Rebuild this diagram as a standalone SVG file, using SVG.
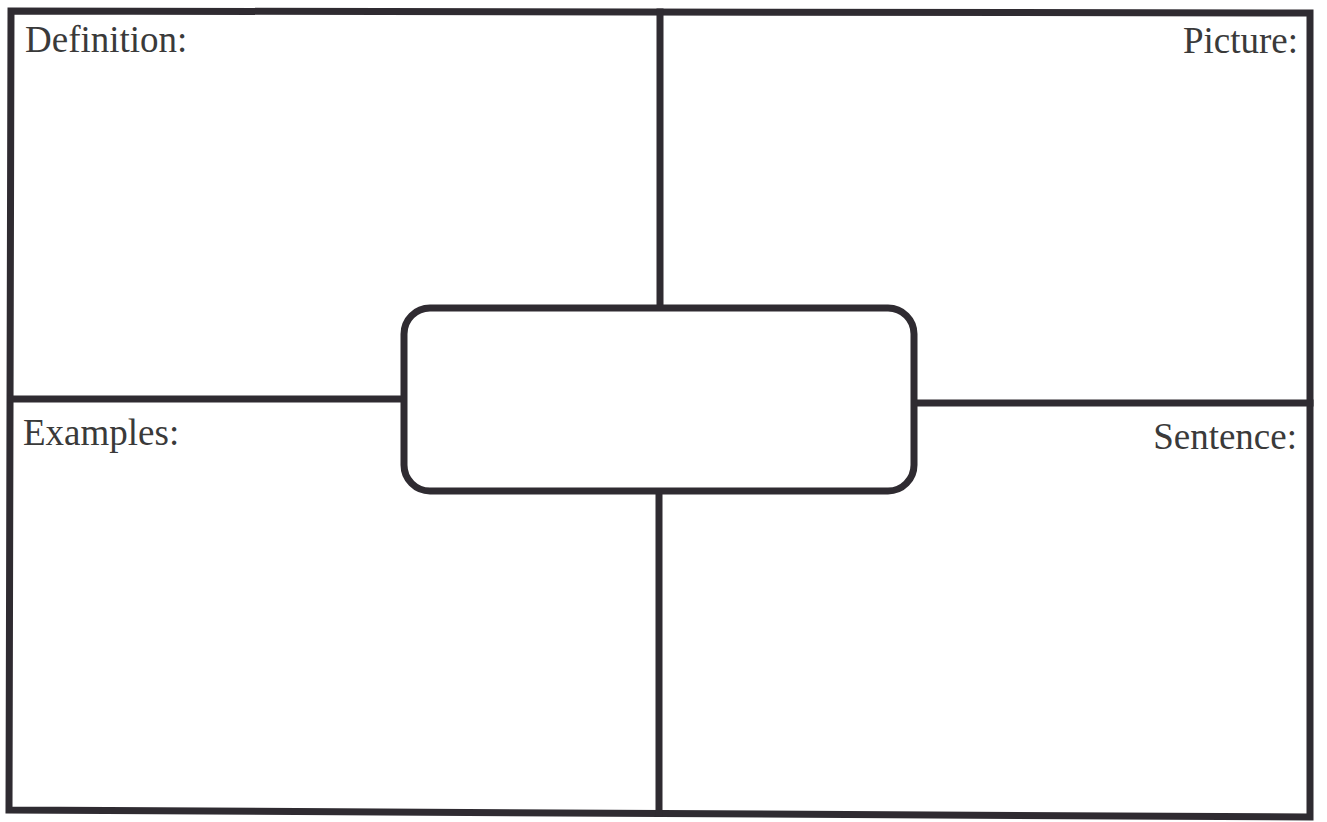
<svg xmlns="http://www.w3.org/2000/svg" width="1327" height="822" viewBox="0 0 1327 822">
<style>
.ln{stroke:#2f2b31;stroke-width:7;fill:none;stroke-linecap:square}
.lbl{font-family:"Liberation Serif","Times New Roman",serif;font-size:37px;fill:#3a3a3a}
</style>
<rect width="1327" height="822" fill="#ffffff"/>
<g id="frame">
<path class="ln" d="M11,11 L1310,13 L1310,817 L9,810 Z"/>
</g>
<g id="connectors">
<line class="ln" x1="660" y1="12" x2="660" y2="306"/>
<line class="ln" x1="659" y1="493" x2="659" y2="813"/>
<line class="ln" x1="11" y1="399" x2="402" y2="399"/>
<line class="ln" x1="916" y1="403" x2="1310" y2="403"/>
</g>
<g id="center">
<rect class="ln" x="404" y="308" width="510" height="183" rx="26" ry="26"/>
</g>
<g id="definition"><text class="lbl" x="25" y="52">Definition:</text></g>
<g id="picture"><text class="lbl" x="1298" y="53" text-anchor="end">Picture:</text></g>
<g id="examples"><text class="lbl" x="23" y="445">Examples:</text></g>
<g id="sentence"><text class="lbl" x="1297" y="449" text-anchor="end">Sentence:</text></g>
</svg>
